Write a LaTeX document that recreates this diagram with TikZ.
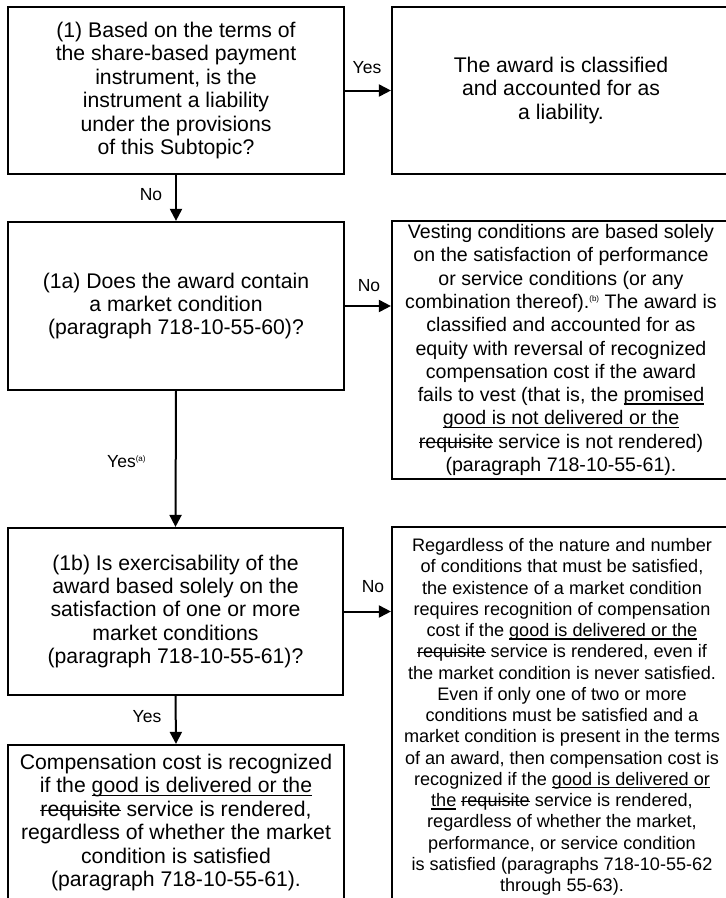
\documentclass[tikz,border=0pt]{standalone}
\usepackage{fontspec}
\setmainfont{Liberation Sans}
\usetikzlibrary{arrows.meta}
\newsavebox\markbox
\newcommand{\ulin}[1]{\sbox\markbox{#1}\rlap{\rule[-3pt]{\wd\markbox}{1.2pt}}\usebox\markbox}
\newcommand{\strk}[1]{\sbox\markbox{#1}\rlap{\rule[0.25em]{\wd\markbox}{1.2pt}}\usebox\markbox}
\newcommand{\fnmark}[1]{\raisebox{0.36em}{\fontsize{8}{8}\selectfont(#1)}}

\begin{document}
\begin{tikzpicture}[x=1pt,y=-1pt,
  qbox/.style={draw,line width=2.2pt,align=center,inner sep=0pt,font=\fontsize{21.2}{23.4}\selectfont},
  flow/.style={line width=2pt,-{Triangle[length=12pt,width=12pt]}},
  lbl/.style={inner sep=0pt,font=\fontsize{17.5}{20}\selectfont}]
 \fill[white] (0,0) rectangle (726,898);
 \useasboundingbox (0,0) rectangle (726,898);
 \clip (0,0) rectangle (726,898);
 % questions on the left
 \node[qbox,minimum width=336pt,minimum height=167pt] (q1) at (176,90.5)
   {(1) Based on the terms of\\ the share-based payment\\ instrument, is the\\ instrument a liability\\ under the provisions\\ of this Subtopic?};
 \node[qbox,minimum width=336pt,minimum height=168pt] (q1a) at (176,306)
   {(1a) Does the award contain\\ a market condition\\ (paragraph 718-10-55-60)?};
 \node[qbox,minimum width=335pt,minimum height=167pt] (q1b) at (175.5,611.5)
   {(1b) Is exercisability of the\\ award based solely on the\\ satisfaction of one or more\\ market conditions\\ (paragraph 718-10-55-61)?};
 \node[qbox,minimum width=336pt,minimum height=155pt] (comp) at (176,822.5)
   {Compensation cost is recognized\\ if the \ulin{good is delivered or the}\\ \strk{requisite} service is rendered,\\ regardless of whether the market\\ condition is satisfied\\ (paragraph 718-10-55-61).};
 % outcomes on the right
 \node[qbox,minimum width=338pt,minimum height=167pt] (liab) at (561,90.5)
   {The award is classified\\ and accounted for as\\ a liability.};
 \node[qbox,minimum width=338pt,minimum height=258pt,font=\fontsize{19.6}{23.3}\selectfont] (vest) at (561,350)
   {Vesting conditions are based solely\\ on the satisfaction of performance\\ or service conditions (or any\\ combination thereof).\fnmark{b} The award is\\ classified and accounted for as\\ equity with reversal of recognized\\ compensation cost if the award\\ fails to vest (that is, the \ulin{promised}\\ \ulin{good is not delivered or the}\\ \strk{requisite} service is not rendered)\\ (paragraph 718-10-55-61).};
 \node[qbox,minimum width=340pt,minimum height=380pt,font=\fontsize{18.1}{21.25}\selectfont] (cond) at (562,717)
   {Regardless of the nature and number\\ of conditions that must be satisfied,\\ the existence of a market condition\\ requires recognition of compensation\\ cost if the \ulin{good is delivered or the}\\ \strk{requisite} service is rendered, even if\\ the market condition is never satisfied.\\ Even if only one of two or more\\ conditions must be satisfied and a\\ market condition is present in the terms\\ of an award, then compensation cost is\\ recognized if the \ulin{good is delivered or}\\ \ulin{the} \strk{requisite} service is rendered,\\ regardless of whether the market,\\ performance, or service condition\\ is satisfied (paragraphs 718-10-55-62\\ through 55-63).};
 % connectors
 \draw[flow] (q1.east) -- (q1.east -| liab.west);
 \draw[flow] (q1.south) -- (q1a.north);
 \draw[flow] (q1a.east) -- (q1a.east -| vest.west);
 \draw[flow] (q1a.south) -- (q1b.north);
 \draw[flow] (q1b.east) -- (q1b.east -| cond.west);
 \draw[flow] (q1b.south) -- (comp.north);
 % answers
 \node[lbl] (yes1) at (367,68) {Yes};
 \node[lbl] (no1) at (151,195) {No};
 \node[lbl] (no1a) at (369,286) {No};
 \node[lbl] (yes1a) at (121.5,462) {Yes\rlap{\fnmark{a}}};
 \node[lbl] (no1b) at (373,587) {No};
 \node[lbl] (yes1b) at (147,717) {Yes};
\end{tikzpicture}
\end{document}
